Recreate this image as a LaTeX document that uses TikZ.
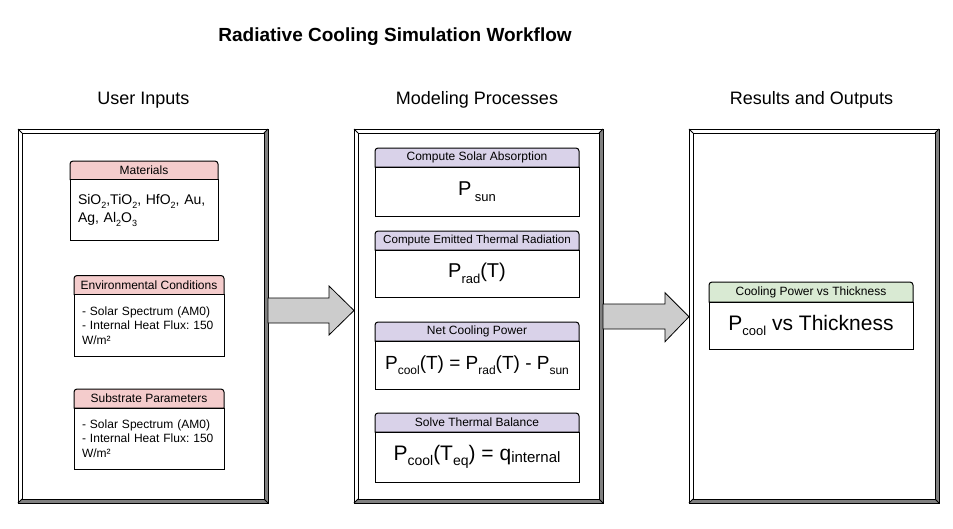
\documentclass[tikz,border=0pt]{standalone}
\usepackage{fontspec}
\setmainfont{Liberation Sans}
\usetikzlibrary{calc,backgrounds}
\frenchspacing
\definecolor{pinkH}{HTML}{F4CCCC}
\definecolor{purpH}{HTML}{D9D2E9}
\definecolor{greenH}{HTML}{D9EAD3}
\definecolor{bevelgray}{HTML}{808080}
\definecolor{arrfill}{HTML}{CCCCCC}
\newcommand{\fsz}[2]{\fontsize{#1pt}{#2pt}\selectfont}
\newcommand{\dsub}[3]{\raisebox{-#1pt}{\fsz{#2}{#2}#3}}
\newcommand{\hdrpath}[2]{%
  \path[draw=black, fill=#2, line width=1pt] (#1.south west) -- ([yshift=-3pt]#1.north west)
    arc[start angle=180,end angle=90,radius=3pt] -- ([xshift=-3pt]#1.north east)
    arc[start angle=90,end angle=0,radius=3pt] -- (#1.south east) -- cycle;}
\newcommand{\bevelframe}[1]{%
  \fill[bevelgray] (#1.north east) -- (#1.south east) -- ([shift={(-4pt,4pt)}]#1.south east) -- ([shift={(-4pt,-4pt)}]#1.north east) -- cycle;
  \fill[bevelgray] (#1.south west) -- (#1.south east) -- ([shift={(-4pt,4pt)}]#1.south east) -- ([shift={(4pt,4pt)}]#1.south west) -- cycle;
  \draw[line width=1pt] (#1.north west) rectangle (#1.south east);
  \draw[line width=1pt] ([shift={(4pt,-4pt)}]#1.north west) rectangle ([shift={(-4pt,4pt)}]#1.south east);
  \draw[line width=0.8pt] (#1.north west) -- +(4pt,-4pt);
  \draw[line width=0.8pt] (#1.north east) -- +(-4pt,-4pt);
  \draw[line width=0.8pt] (#1.south west) -- +(4pt,4pt);
  \draw[line width=0.8pt] (#1.south east) -- +(-4pt,4pt);}
\tikzset{
  frame/.style={inner sep=0pt, outer sep=0pt, minimum width=250pt, minimum height=374pt},
  coltitle/.style={font=\fsz{18}{21}, inner sep=0pt},
  hdrbox/.style={inner sep=0pt, outer sep=0pt, font=\fsz{12}{14}},
  bodybox/.style={draw, line width=1pt, inner sep=0pt, outer sep=0pt, anchor=north, fill=white},
  listbody/.style={bodybox, align=left, text width=134pt, inner xsep=8pt, font=\fsz{12}{14.5}},
  formbody/.style={bodybox, align=center, font=\fsz{20}{24}},
  blockarr/.style={draw=black, fill=arrfill, line width=0.8pt, line join=miter},
}
\begin{document}
\begin{tikzpicture}[x=1pt,y=-1pt]
\useasboundingbox (0,0) rectangle (953,528);

\node[font=\bfseries\fsz{19}{22}, inner sep=0pt] (title) at (395,37) {Radiative Cooling Simulation Workflow};

\node[coltitle] (t1) at (143.5,100) {User Inputs};
\node[coltitle] (t2) at (477,100) {Modeling Processes};
\node[coltitle] (t3) at (811.5,100) {Results and Outputs};

\node[frame] (col1) at (143,316) {};
\node[frame, minimum width=249pt] (col2) at (478.5,316) {};
\node[frame] (col3) at (814,316) {};
\bevelframe{col1}
\bevelframe{col2}
\bevelframe{col3}

% column 1
\node[hdrbox, minimum width=148pt, minimum height=18.5pt, anchor=north] (matH) at (144,161) {Materials};
\node[listbody, text width=132pt, minimum height=61pt, font=\fsz{14}{18}] (matB) at (matH.south)
  {SiO\dsub{4}{9}{2},TiO\dsub{4}{9}{2}, HfO\dsub{4}{9}{2}, Au,\\Ag, Al\dsub{4}{9}{2}O\dsub{4}{9}{3}};

\node[hdrbox, minimum width=150pt, minimum height=19pt, anchor=north] (envH) at (149,275.5) {Environmental Conditions};
\node[listbody, minimum height=61.5pt] (envB) at (envH.south)
  {- Solar Spectrum (AM0)\\- Internal Heat Flux: 150\\W/m²};

\node[hdrbox, minimum width=150pt, minimum height=19pt, anchor=north] (subH) at (149,389) {Substrate Parameters};
\node[listbody, minimum height=61pt] (subB) at (subH.south)
  {- Solar Spectrum (AM0)\\- Internal Heat Flux: 150\\W/m²};

% column 2
\node[hdrbox, minimum width=204pt, minimum height=19pt, anchor=north] (solH) at (477,148) {Compute Solar Absorption};
\node[formbody, minimum width=204pt, minimum height=49pt] (solB) at (solH.south) {P\,\dsub{5.5}{13}{sun}};

\node[hdrbox, minimum width=204pt, minimum height=19pt, anchor=north, font=\fsz{11.6}{14}] (emiH) at (477,231) {Compute Emitted Thermal Radiation};
\node[formbody, minimum width=204pt, minimum height=47pt] (emiB) at (emiH.south) {P\dsub{5.5}{13}{rad}(T)};

\node[hdrbox, minimum width=204pt, minimum height=19pt, anchor=north] (netH) at (477,322) {Net Cooling Power};
\node[formbody, minimum width=204pt, minimum height=48pt, font=\fsz{19}{22}] (netB) at (netH.south)
  {P\dsub{5.5}{12}{cool}(T) = P\dsub{5.5}{12}{rad}(T) - P\dsub{5.5}{12}{sun}};

\node[hdrbox, minimum width=204pt, minimum height=19pt, anchor=north] (solvH) at (477,413) {Solve Thermal Balance};
\node[formbody, minimum width=204pt, minimum height=50pt, font=\fsz{21}{24}] (solvB) at (solvH.south)
  {P\dsub{5.5}{14}{cool}(T\dsub{5.5}{14}{eq}) = q\dsub{2.5}{15}{internal}};

% column 3
\node[hdrbox, minimum width=204pt, minimum height=20pt, anchor=north] (resH) at (811,282) {Cooling Power vs Thickness};
\node[formbody, minimum width=204pt, minimum height=47pt, font=\fsz{21}{24}] (resB) at (resH.south)
  {P\dsub{5.5}{13}{cool} vs Thickness};

\begin{scope}[on background layer]
  \hdrpath{matH}{pinkH}
  \hdrpath{envH}{pinkH}
  \hdrpath{subH}{pinkH}
  \hdrpath{solH}{purpH}
  \hdrpath{emiH}{purpH}
  \hdrpath{netH}{purpH}
  \hdrpath{solvH}{purpH}
  \hdrpath{resH}{greenH}
\end{scope}

% block arrows
\draw[blockarr] ($(col1.east)+(0,-18)$) -- ($(col2.west)+(-25,-18)$) -- ($(col2.west)+(-25,-30)$)
  -- ($(col2.west)+(0,-5.5)$) -- ($(col2.west)+(-25,19)$) -- ($(col2.west)+(-25,7)$)
  -- ($(col1.east)+(0,7)$) -- cycle;
\draw[blockarr] ($(col2.east)+(0,-12)$) -- ($(col3.west)+(-24,-12)$) -- ($(col3.west)+(-24,-23.3)$)
  -- ($(col3.west)+(0,0.7)$) -- ($(col3.west)+(-24,25.7)$) -- ($(col3.west)+(-24,13)$)
  -- ($(col2.east)+(0,13)$) -- cycle;
\end{tikzpicture}
\end{document}
